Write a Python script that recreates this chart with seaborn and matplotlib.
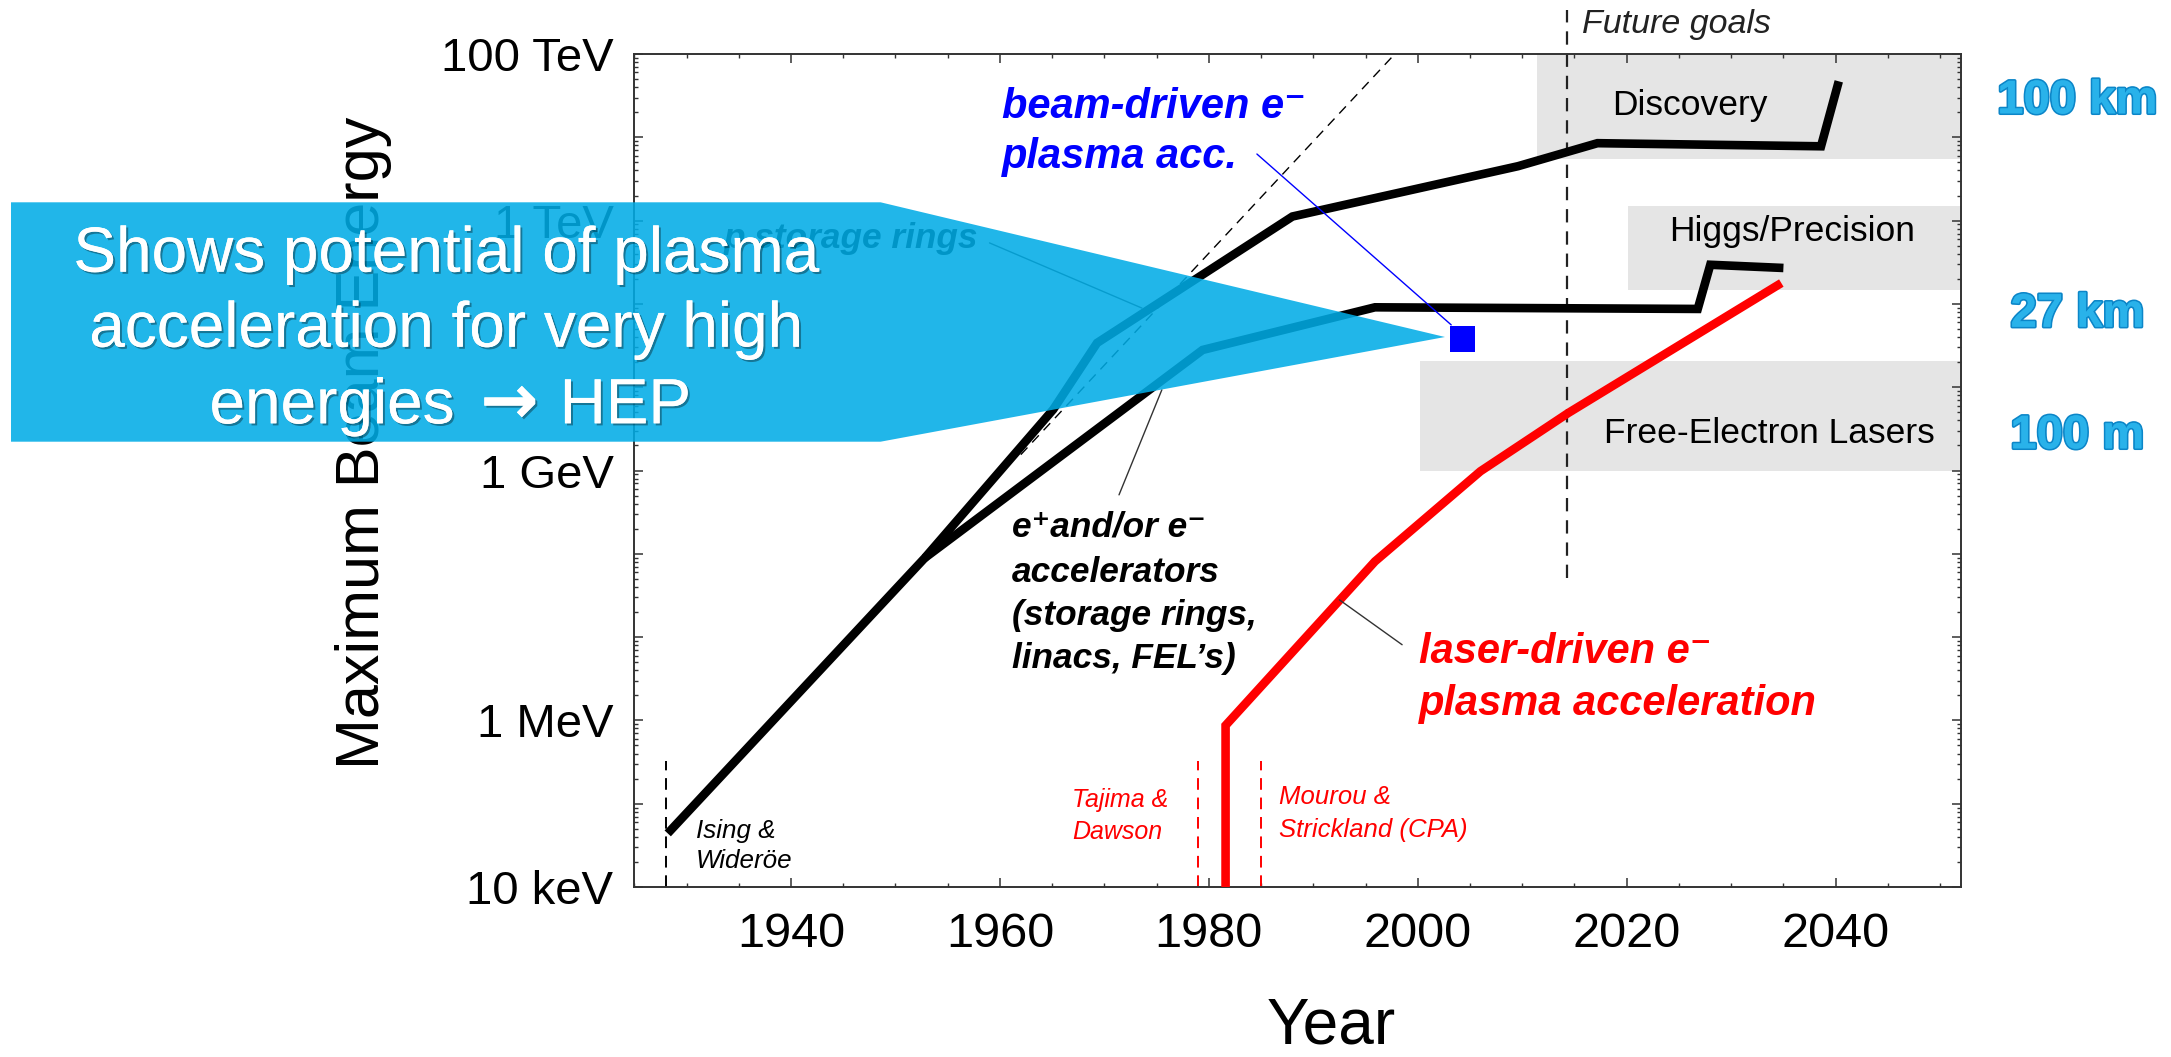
import numpy as np
import pandas as pd
import matplotlib
matplotlib.use("Agg")
import matplotlib.pyplot as plt
import seaborn as sns
from matplotlib import font_manager as fm
from matplotlib import patheffects as pe
from matplotlib.patches import Polygon

# ------------------------------------------------------------------ data
# proton / hadron storage rings (upper black curve, incl. the common early part)
hadron_years = [1928.2, 1952.8, 1965.1, 1969.3, 1988.0, 2009.6, 2017.2, 2038.6, 2040.3]
hadron_energy = [4.4e4, 8.9e7, 5.4e9, 3.4e10, 1.12e12, 4.5e12, 8.5e12, 7.8e12, 4.7e13]

# e+ and/or e- accelerators (lower black curve, branches off the common part)
lepton_years = [1952.8, 1979.4, 1995.9, 2026.8, 2028.0, 2035.0]
lepton_energy = [8.9e7, 2.8e10, 9.1e10, 8.7e10, 2.95e11, 2.7e11]

# laser-driven plasma acceleration (red)
laser_years = [1981.6, 1981.6, 1995.9, 2006.0, 2014.4, 2034.8]
laser_energy = [1.0e4, 8.7e5, 8.1e7, 9.8e8, 4.9e9, 1.78e11]

# beam-driven plasma acceleration (blue square)
beam_year = [2004.3]
beam_energy = [3.8e10]

# Livingston trend (thin dashed)
trend_years = [1962.0, 1997.8]
trend_energy = [1.55e9, 1.0e14]

# future-goal boxes
goal_names = ["Discovery", "Higgs/Precision", "Free-Electron Lasers"]
goal_start = [2011.4, 2020.1, 2000.2]
goal_low = [5.5e12, 1.48e11, 9.8e8]
goal_high = [1.0e14, 1.51e12, 2.04e10]

# milestones (vertical dashed lines)
milestone_years = [1928.0, 1979.0, 1985.0]
milestone_top = 3.3e5
future_year = 2014.3
future_span = [5.1e7, 3.4e14]

# annotation pointers (year, energy) pairs
storage_ptr_years = [1959.0, 1973.6]
storage_ptr_energy = [5.4e11, 8.9e10]
lepton_ptr_years = [1975.5, 1971.4]
lepton_ptr_energy = [9.3e9, 5.1e8]
laser_ptr_years = [1992.5, 1998.5]
laser_ptr_energy = [2.8e7, 8.1e6]
beam_ptr_years = [1984.6, 2003.2]
beam_ptr_energy = [6.3e12, 5.6e10]

# ticks
x_major = [1940, 1960, 1980, 2000, 2020, 2040]
x_minor = list(range(1925, 2055, 5))
y_label_vals = [1e4, 1e6, 1e9, 1e12, 1e14]
y_label_text = ["10 keV", "1 MeV", "1 GeV", "1 TeV", "100 TeV"]
ring_sizes = ["100 km", "27 km", "100 m"]

# ------------------------------------------------------------------ style
sns.set_theme(style="ticks")


def has_font(name):
    try:
        fm.findfont(fm.FontProperties(family=name), fallback_to_default=False)
        return True
    except Exception:
        return False


BASE = "Liberation Sans" if has_font("Liberation Sans") else "DejaVu Sans"
NARROW = "Liberation Sans Narrow" if has_font("Liberation Sans Narrow") else None
plt.rcParams["font.family"] = [BASE, "DejaVu Sans"]
plt.rcParams["axes.unicode_minus"] = False

W, H, DPI = 2171, 1057, 100
fig = plt.figure(figsize=(W / DPI, H / DPI), dpi=DPI, facecolor="white")
L, R, T, B = 634.3, 1961.0, 54.0, 887.0
ax = fig.add_axes([L / W, 1 - B / H, (R - L) / W, (B - T) / H])
ax.set_facecolor("white")
ax.set_yscale("log")
ax.set_xlim(1925, 2052)
ax.set_ylim(1e4, 1e14)

# gray goal boxes
for s, lo, hi in zip(goal_start, goal_low, goal_high):
    ax.fill_between([s, 2053], lo, hi, color="#E5E5E5", lw=0, zorder=0.5)

# curves
line_kw = dict(sort=False, estimator=None, linewidth=6.2, ax=ax,
               solid_joinstyle="miter", solid_capstyle="butt", zorder=3)
sns.lineplot(x=hadron_years, y=hadron_energy, color="black", **line_kw)
sns.lineplot(x=lepton_years, y=lepton_energy, color="black", **line_kw)
sns.lineplot(x=laser_years, y=laser_energy, color="#FF0000", **line_kw)
sns.scatterplot(x=beam_year, y=beam_energy, marker="s", s=330, color="#0000FF",
                edgecolor="none", ax=ax, zorder=6)

# trend line
sns.lineplot(x=trend_years, y=trend_energy, color="black", linewidth=1.0,
             linestyle=(0, (7, 5)), sort=False, estimator=None, ax=ax, zorder=2)

# milestone lines
for yr, col in zip(milestone_years, ["black", "#FF0000", "#FF0000"]):
    ax.plot([yr, yr], [1e4, milestone_top], color=col, lw=1.4,
            linestyle=(0, (6, 4)), zorder=2)
ax.plot([future_year, future_year], future_span, color="#222222", lw=1.6,
        linestyle=(0, (6, 4)), zorder=2.5, clip_on=False)

# pointers
for xs, ys, col in [(storage_ptr_years, storage_ptr_energy, "#333333"),
                    (lepton_ptr_years, lepton_ptr_energy, "#333333"),
                    (laser_ptr_years, laser_ptr_energy, "#333333"),
                    (beam_ptr_years, beam_ptr_energy, "#0000FF")]:
    ax.plot(xs, ys, color=col, lw=1.0, zorder=4)

# ticks
tick_family = [NARROW, "DejaVu Sans"] if NARROW else [BASE, "DejaVu Sans"]
ysize = 39 if NARROW else 34
xsize = 40 if NARROW else 35
y_major = [10.0 ** k for k in range(4, 15)]
y_major_lbl = [y_label_text[y_label_vals.index(v)] if v in y_label_vals else "" for v in y_major]
ax.set_yticks(y_major, labels=y_major_lbl, fontsize=ysize, family=tick_family)
ax.set_yticks([m * 10.0 ** k for k in range(4, 14) for m in range(2, 10)], minor=True)
ax.set_xticks(x_major, labels=[str(v) for v in x_major], fontsize=xsize, family=tick_family)
ax.set_xticks(x_minor, minor=True)
ax.yaxis.set_minor_formatter(matplotlib.ticker.NullFormatter())
ax.xaxis.set_minor_formatter(matplotlib.ticker.NullFormatter())
ax.tick_params(which="both", direction="in", top=True, right=True,
               color="#333333", labelcolor="black")
ax.tick_params(which="major", length=6.5, width=1.1)
ax.tick_params(which="minor", length=3.2, width=1.0)
ax.tick_params(axis="x", which="major", pad=18)
ax.tick_params(axis="y", which="major", pad=15)
for sp in ax.spines.values():
    sp.set_color("#333333")
    sp.set_linewidth(1.4)
    sp.set_visible(True)
ax.set_xlabel("")
ax.set_ylabel("")


def ptext(x, y, s, **kw):
    return ax.text(x / W, 1 - y / H, s, transform=fig.transFigure, **kw)


bi = dict(fontweight="bold", style="italic", va="baseline", ha="left")
it = dict(style="italic", va="baseline", ha="left")

ptext(363, 443, "Maximum Beam Energy", rotation=90, ha="center", va="center",
      fontsize=44, color="black")
ptext(1331, 1043, "Year", ha="center", va="baseline", fontsize=46, color="black")

ptext(1001.8, 118, "beam-driven e\u207b", color="#0000FF", fontsize=30, **bi)
ptext(1001.8, 168.3, "plasma acc.", color="#0000FF", fontsize=30, **bi)
ptext(724, 248, "p storage rings", color="black", fontsize=25.4, **bi)
for s, yb in zip(["e\u207aand/or e\u207b", "accelerators", "(storage rings,", "linacs, FEL\u2019s)"],
                 [536.7, 581.7, 625, 668]):
    ptext(1011.7, yb, s, color="black", fontsize=25.4, **bi)
ptext(1419.4, 663, "laser-driven e\u207b", color="#FF0000", fontsize=30, **bi)
ptext(1419.4, 715, "plasma acceleration", color="#FF0000", fontsize=30, **bi)

ptext(695.7, 838, "Ising &", color="black", fontsize=18.7, **it)
ptext(695.7, 868, "Wider\u00f6e", color="black", fontsize=18.7, **it)
ptext(1072, 806.7, "Tajima &", color="#FF0000", fontsize=18, **it)
ptext(1072, 839.3, "Dawson", color="#FF0000", fontsize=18, **it)
ptext(1279.2, 804, "Mourou &", color="#FF0000", fontsize=18.5, **it)
ptext(1279.2, 836.7, "Strickland (CPA)", color="#FF0000", fontsize=18.5, **it)
ptext(1582, 33.3, "Future goals", color="#222222", fontsize=24.5, **it)

for name, cx, yb in zip(goal_names, [1690, 1792.3, 1769.5], [115, 240.7, 443.3]):
    ptext(cx, yb, name, ha="center", va="baseline", fontsize=25.5, color="black")

# ring-size labels on the right
for s, yb in zip(ring_sizes, [113.3, 326.7, 448.3]):
    fig.text(2077.5 / W, 1 - yb / H, s, ha="center", va="baseline", fontsize=34,
             fontweight="bold", color="#29B2EA", zorder=6,
             path_effects=[pe.withStroke(linewidth=2.5, foreground="#0C86C8"), pe.Normal()])

# callout overlay
pts = np.array([[11, 202.3], [880.6, 202.3], [1445, 337], [880.6, 441.7], [11, 441.7]])
poly = Polygon(np.column_stack([pts[:, 0] / W, 1 - pts[:, 1] / H]), closed=True,
               transform=fig.transFigure, facecolor="#00ACE6", alpha=0.87,
               edgecolor="none", zorder=5)
fig.add_artist(poly)
shadow = [pe.withSimplePatchShadow(offset=(1.5, -1.5), shadow_rgbFace="black", alpha=0.35),
          pe.Normal()]
for s, yb in zip(["Shows potential of plasma", "acceleration for very high"], [271.7, 346.7]):
    fig.text(446 / W, 1 - yb / H, s, ha="center", va="baseline", fontsize=46,
             color="white", zorder=7, path_effects=shadow)
# third line: words plus a heavier arrow glyph
fig.text(209.5 / W, 1 - 423.3 / H, "energies", ha="left", va="baseline", fontsize=46,
         color="white", zorder=7, path_effects=shadow)
fig.text(509.5 / W, 1 - 423.3 / H, "\u2192", ha="center", va="baseline", fontsize=50,
         family=["DejaVu Sans"], fontweight="bold", color="white", zorder=7,
         path_effects=shadow)
fig.text(559.7 / W, 1 - 423.3 / H, "HEP", ha="left", va="baseline", fontsize=46,
         color="white", zorder=7, path_effects=shadow)

fig.savefig("out.png", dpi=DPI, facecolor="white")
